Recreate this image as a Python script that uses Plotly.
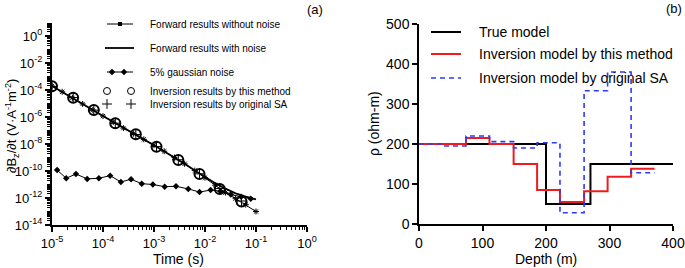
import plotly.graph_objects as go

# ---------------- data: panel (a) ----------------
t_fwd = [1e-5, 1.585e-5, 2.512e-5, 3.981e-5, 6.31e-5, 1e-4, 1.585e-4, 2.512e-4, 3.981e-4,
         6.31e-4, 1e-3, 1.585e-3, 2.512e-3, 3.981e-3, 6.31e-3, 1e-2, 1.585e-2, 2.512e-2,
         3.981e-2, 6.31e-2, 1e-1]
fwd_clean = [2.0e-4, 7.4e-5, 2.6e-5, 9.3e-6, 3.3e-6, 1.17e-6, 4.2e-7, 1.5e-7, 5.8e-8,
             2.2e-8, 8.1e-9, 2.9e-9, 1.0e-9, 3.4e-10, 1.07e-10, 3.2e-11, 8.9e-12, 2.5e-12,
             8.9e-13, 3.2e-13, 1.0e-13]
fwd_noisy = [2.0e-4, 7.4e-5, 2.6e-5, 9.3e-6, 3.3e-6, 1.17e-6, 4.2e-7, 1.5e-7, 5.8e-8,
             2.2e-8, 8.1e-9, 2.9e-9, 1.0e-9, 3.45e-10, 1.1e-10, 3.5e-11, 1.26e-11, 4.9e-12,
             2.2e-12, 1.26e-12, 7.9e-13]
t_noise = [1.26e-5, 1.9e-5, 2.95e-5, 4.9e-5, 8.3e-5, 1.38e-4, 2.24e-4, 3.55e-4, 5.75e-4,
           9.5e-4, 1.62e-3, 2.7e-3, 4.7e-3, 7.8e-3, 1.29e-2, 2.0e-2, 3.2e-2, 5.1e-2, 7.9e-2]
noise = [1.17e-10, 2.9e-11, 6.0e-11, 2.6e-11, 2.9e-11, 4.5e-11, 1.55e-11, 2.45e-11, 1.15e-11,
         1.0e-11, 6.9e-12, 7.4e-12, 4.7e-12, 2.75e-12, 3.9e-12, 3.2e-12, 1.8e-12, 1.26e-12, 8.9e-13]
t_inv = [1e-5, 2.6e-5, 6.6e-5, 1.74e-4, 4.4e-4, 1.12e-3, 3.0e-3, 7.8e-3, 1.95e-2, 5.2e-2]
inv_this = [1.9e-4, 2.7e-5, 3.3e-6, 3.4e-7, 5.2e-8, 6.3e-9, 6.5e-10, 6.0e-11, 4.7e-12, 5.4e-13]
inv_sa = [1.8e-4, 2.8e-5, 3.2e-6, 3.5e-7, 5.0e-8, 6.5e-9, 6.8e-10, 6.2e-11, 5.0e-12, 6.0e-13]

x_exps = [-5, -4, -3, -2, -1, 0]
y_exps = [0, -2, -4, -6, -8, -10, -12, -14]

# ---------------- data: panel (b) ----------------
true_depth = [0, 200, 270, 400]
true_rho = [200, 50, 150, 150]
this_depth = [0, 74, 111, 149, 186, 222, 260, 297, 334, 371]
this_rho = [200, 215, 200, 150, 85, 55, 82, 118, 138, 138]
sa_depth = [0, 37, 74, 111, 149, 186, 222, 260, 297, 334, 371]
sa_rho = [200, 195, 220, 206, 190, 203, 28, 333, 380, 128, 128]

legend_a = ["Forward results without noise", "Forward results with noise", "5% gaussian noise",
            "Inversion results by this method", "Inversion results by original SA"]
legend_b = ["True model", "Inversion model by this method", "Inversion model by original SA"]

W, H = 685, 268
FONT = "Arial, Liberation Sans, sans-serif"
BLUE = "#2e3bf5"
RED = "#ee1c1c"

fig = go.Figure()

# panel (a) traces
fig.add_trace(go.Scatter(x=t_fwd, y=fwd_noisy, mode="lines", line=dict(color="black", width=1.8),
                         xaxis="x", yaxis="y"))
fig.add_trace(go.Scatter(x=t_fwd, y=fwd_clean, mode="lines+markers", line=dict(color="black", width=1),
                         marker=dict(symbol="asterisk-open", size=5, color="black", line=dict(width=1, color="black")),
                         xaxis="x", yaxis="y"))
fig.add_trace(go.Scatter(x=t_noise, y=noise, mode="lines+markers", line=dict(color="black", width=1),
                         marker=dict(symbol="diamond", size=5, color="black"),
                         xaxis="x", yaxis="y"))
fig.add_trace(go.Scatter(x=t_inv, y=inv_this, mode="markers",
                         marker=dict(symbol="circle-open", size=10, color="black", line=dict(width=2, color="black")),
                         xaxis="x", yaxis="y"))
fig.add_trace(go.Scatter(x=t_inv, y=inv_sa, mode="markers",
                         marker=dict(symbol="cross-thin-open", size=8, color="black", line=dict(width=1, color="black")),
                         xaxis="x", yaxis="y"))

# panel (b) traces
fig.add_trace(go.Scatter(x=true_depth, y=true_rho, mode="lines", line=dict(color="black", width=2, shape="hv"),
                         xaxis="x2", yaxis="y2"))
fig.add_trace(go.Scatter(x=this_depth, y=this_rho, mode="lines", line=dict(color=RED, width=2, shape="hv"),
                         xaxis="x2", yaxis="y2"))
fig.add_trace(go.Scatter(x=sa_depth, y=sa_rho, mode="lines", line=dict(color=BLUE, width=1.6, shape="hv", dash="5px,4px"),
                         xaxis="x2", yaxis="y2"))

# ---------------- manual legends (pixel overlay axes) ----------------
def seg(x0, x1, y, **line):
    fig.add_trace(go.Scatter(x=[x0, x1], y=[y, y], mode="lines", line=line, xaxis="x3", yaxis="y3",
                             hoverinfo="skip"))

def pts(xs, ys, **marker):
    fig.add_trace(go.Scatter(x=xs, y=ys, mode="markers", marker=marker, xaxis="x3", yaxis="y3",
                             hoverinfo="skip"))

la_y = [24, 48, 72, 91, 104]
seg(107, 133, la_y[0], color="black", width=1)
pts([120], [la_y[0]], symbol="square", size=4, color="black")
seg(105, 134, la_y[1], color="black", width=1.8)
seg(107, 133, la_y[2], color="black", width=1)
pts([112, 124], [la_y[2], la_y[2]], symbol="diamond", size=5, color="black")
pts([107, 131], [la_y[3], la_y[3]], symbol="circle-open", size=7, color="black", line=dict(width=1, color="black"))
pts([107, 131], [la_y[4], la_y[4]], symbol="cross-thin-open", size=7, color="black", line=dict(width=1, color="black"))

lb_y = [32, 54, 78]
seg(431, 461, lb_y[0], color="black", width=2)
seg(431, 461, lb_y[1], color=RED, width=2)
seg(431, 461, lb_y[2], color=BLUE, width=1.6, dash="5px,4px")

annotations = []
for name, yy in zip(legend_a, la_y):
    annotations.append(dict(x=148, y=yy, xref="x3", yref="y3", text=name, showarrow=False,
                            xanchor="left", yanchor="middle", font=dict(size=10, color="black", family=FONT)))
for name, yy in zip(legend_b, lb_y):
    annotations.append(dict(x=477, y=yy, xref="x3", yref="y3", text=name, showarrow=False,
                            xanchor="left", yanchor="middle", font=dict(size=14, color="black", family=FONT)))

annotations += [
    dict(x=315, y=9, xref="x3", yref="y3", text="(a)", showarrow=False, xanchor="center", yanchor="middle",
         font=dict(size=13, color="black", family=FONT)),
    dict(x=674, y=8, xref="x3", yref="y3", text="(b)", showarrow=False, xanchor="center", yanchor="middle",
         font=dict(size=13, color="black", family=FONT)),
    dict(x=178, y=259, xref="x3", yref="y3", text="Time (s)", showarrow=False, xanchor="center", yanchor="middle",
         font=dict(size=14, color="black", family=FONT)),
    dict(x=546, y=259, xref="x3", yref="y3", text="Depth (m)", showarrow=False, xanchor="center", yanchor="middle",
         font=dict(size=14, color="black", family=FONT)),
    dict(x=12, y=126, xref="x3", yref="y3", text="∂B<sub>z</sub>/∂t (V·A<sup>-1</sup>m<sup>-2</sup>)",
         showarrow=False, textangle=-90, xanchor="center", yanchor="middle",
         font=dict(size=13, color="black", family=FONT)),
    dict(x=374, y=124, xref="x3", yref="y3", text="ρ (ohm-m)", showarrow=False, textangle=-90,
         xanchor="center", yanchor="middle", font=dict(size=14, color="black", family=FONT)),
]

# minor ticks for log axes
minor_x = [m * 10.0 ** e for e in range(-5, 0) for m in range(2, 10)]
minor_y = [m * 10.0 ** e for e in range(-14, 1) for m in range(1, 10)
           if not (m == 1 and e % 2 == 0)]

def ax(**kw):
    base = dict(showgrid=False, zeroline=False, showline=True, linecolor="black", ticks="outside",
                tickcolor="black", automargin=False, ticklen=5, tickwidth=1.5,
                tickfont=dict(size=13, color="black", family=FONT))
    base.update(kw)
    return base

fig.update_layout(
    template="none",
    width=W, height=H,
    margin=dict(l=0, r=0, t=0, b=0, pad=0),
    paper_bgcolor="white", plot_bgcolor="rgba(0,0,0,0)",
    showlegend=False,
    xaxis=ax(type="log", range=[-5, 0], domain=[52 / W, 307 / W], anchor="y", linewidth=2,
             tickvals=[10.0 ** e for e in x_exps], ticktext=[f"10<sup>{e}</sup>" for e in x_exps],
             minor=dict(tickvals=minor_x, ticks="outside", ticklen=3, tickcolor="black", tickwidth=1, showgrid=False)),
    yaxis=ax(type="log", range=[-14, 1], domain=[1 - 225 / H, 1 - 22.5 / H], anchor="x", linewidth=2,
             tickvals=[10.0 ** e for e in y_exps], ticktext=[f"10<sup>{e}</sup>" for e in y_exps],
             minor=dict(tickvals=minor_y, ticks="outside", ticklen=3, tickcolor="black", tickwidth=1, showgrid=False)),
    xaxis2=ax(range=[0, 400], domain=[419 / W, 673 / W], anchor="y2", linewidth=1.5,
              tickvals=[0, 100, 200, 300, 400], tickfont=dict(size=14, color="black", family=FONT)),
    yaxis2=ax(range=[0, 500], domain=[1 - 224 / H, 1 - 24 / H], anchor="x2", linewidth=1.5,
              tickvals=[0, 100, 200, 300, 400, 500], tickfont=dict(size=14, color="black", family=FONT)),
    xaxis3=dict(range=[0, W], domain=[0, 1], visible=False, fixedrange=True, anchor="y3", automargin=False),
    yaxis3=dict(range=[H, 0], domain=[0, 1], visible=False, fixedrange=True, anchor="x3", automargin=False),
    annotations=annotations,
)

fig.write_html("out.html", config={"displayModeBar": False},
               post_script="document.body.style.margin='0px';document.body.style.overflow='hidden';")
